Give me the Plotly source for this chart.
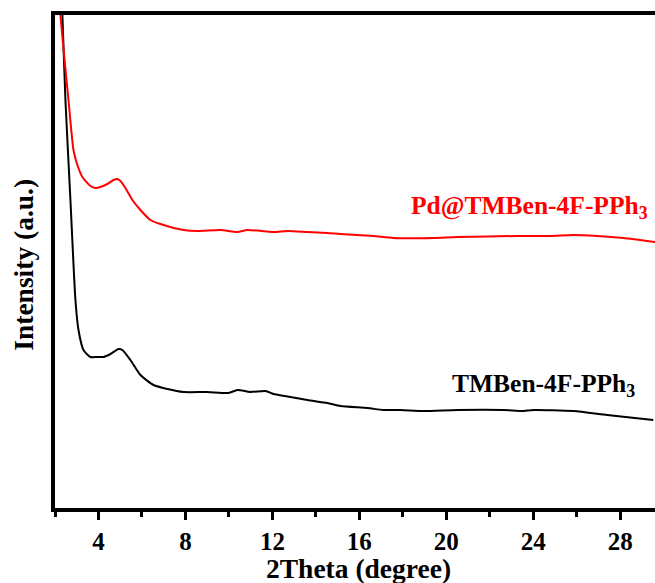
import plotly.graph_objects as go

# Pd@TMBen-4F-PPh3 (red)
red_x = [2.22, 2.25, 2.44, 2.62, 2.85, 3.03, 3.26, 3.63, 3.86, 4.09, 4.41, 4.69, 4.87, 5.01,
         5.24, 5.56, 5.93, 6.39, 6.85, 7.91, 8.55, 9.61, 10.39, 10.85, 12.05, 12.69, 13.61,
         14.53, 15.13, 16.64, 17.56, 19.40, 20.51, 23.26, 24.78, 25.84, 26.94, 28.14, 29.61]
red_y = [505, 493, 448, 408, 358, 343, 331, 322, 320, 321, 324, 328, 329, 327,
         320, 308, 298, 288, 284, 278, 277, 278, 276, 278, 276, 277, 276,
         275, 274, 272, 270, 270, 271, 272, 272, 273, 272, 270, 266]

# TMBen-4F-PPh3 (black)
blk_x = [2.30, 2.34, 2.48, 2.71, 2.94, 3.08, 3.31, 3.63, 3.95, 4.23, 4.55, 4.92, 5.10, 5.47,
         5.93, 6.53, 7.17, 7.91, 9.01, 9.98, 10.39, 10.99, 11.68, 12.05, 12.83, 13.61, 14.53,
         15.13, 16.37, 17.10, 17.89, 18.94, 20.51, 22.62, 23.54, 24.00, 25.84, 27.40, 29.52]
blk_y = [513, 493, 408, 308, 208, 178, 158, 151, 151, 151, 154, 159, 158, 148,
         133, 123, 119, 116, 116, 115, 118, 116, 117, 114, 111, 108, 105,
         102, 100, 98, 98, 97, 98, 98, 97, 98, 97, 93, 88]

x_ticks = [4, 8, 12, 16, 20, 24, 28]

FONT = "Liberation Serif, Times New Roman, serif"

fig = go.Figure()
fig.add_trace(go.Scatter(x=blk_x, y=blk_y, mode="lines",
                         line=dict(color="black", width=2, shape="spline", smoothing=0.6),
                         showlegend=False))
fig.add_trace(go.Scatter(x=red_x, y=red_y, mode="lines",
                         line=dict(color="#ff0000", width=2, shape="spline", smoothing=0.6),
                         showlegend=False))

fig.update_layout(
    width=655, height=583,
    margin=dict(l=55, r=0, t=15, b=75),
    paper_bgcolor="white", plot_bgcolor="white",
    font=dict(family=FONT, color="black", size=24),
    showlegend=False,
    xaxis=dict(range=[2, 29.6], tickvals=x_ticks, ticks="outside", ticklen=8, tickwidth=3,
               tickcolor="black", showline=True, linewidth=3.5, linecolor="black", mirror=True,
               showgrid=False, zeroline=False,
               tickfont=dict(family=FONT, size=25, weight="bold"),
               minor=dict(dtick=2, tick0=2, ticks="outside", ticklen=5, tickwidth=3, tickcolor="black")),
    yaxis=dict(range=[0, 493], showticklabels=False, ticks="", showline=True, linewidth=3.5,
               linecolor="black", mirror=False, showgrid=False, zeroline=False),
    annotations=[
        dict(text="<b>2Theta (degree)</b>", xref="paper", yref="paper", x=0.506, y=-0.122,
             showarrow=False, xanchor="center", yanchor="middle",
             font=dict(family=FONT, size=27.5, color="black")),
        dict(text="<b>Intensity (a.u.)</b>", xref="paper", yref="paper", x=-0.052, y=0.493,
             showarrow=False, xanchor="center", yanchor="middle", textangle=-90,
             font=dict(family=FONT, size=27.5, color="black")),
        dict(text="<b>Pd@TMBen-4F-PPh<sub>3</sub></b>", xref="x", yref="y", x=23.82, y=301,
             showarrow=False, xanchor="center", yanchor="middle",
             font=dict(family=FONT, size=25.5, color="#ff0000")),
        dict(text="<b>TMBen-4F-PPh<sub>3</sub></b>", xref="x", yref="y", x=24.48, y=123,
             showarrow=False, xanchor="center", yanchor="middle",
             font=dict(family=FONT, size=25.5, color="black")),
    ],
)

fig.write_html("out.html")
